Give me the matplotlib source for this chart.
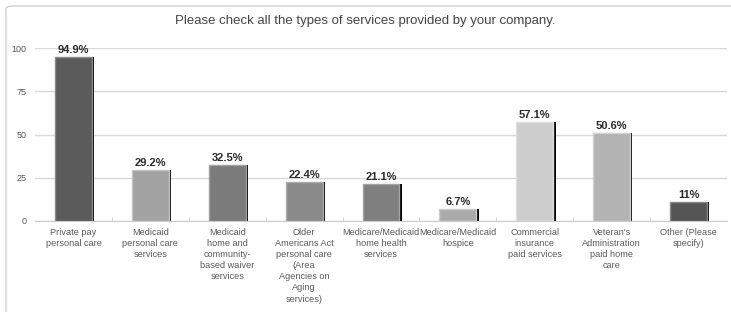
import matplotlib
matplotlib.use("Agg")
import matplotlib.pyplot as plt
from matplotlib.patches import FancyBboxPatch

plt.rcParams["font.family"] = ["Liberation Sans", "DejaVu Sans"]

TITLE = "Please check all the types of services provided by your company."
categories = [
    "Private pay\npersonal care",
    "Medicaid\npersonal care\nservices",
    "Medicaid\nhome and\ncommunity-\nbased waiver\nservices",
    "Older\nAmericans Act\npersonal care\n(Area\nAgencies on\nAging\nservices)",
    "Medicare/Medicaid\nhome health\nservices",
    "Medicare/Medicaid\nhospice",
    "Commercial\ninsurance\npaid services",
    "Veteran's\nAdministration\npaid home\ncare",
    "Other (Please\nspecify)",
]
values = [94.9, 29.2, 32.5, 22.4, 21.1, 6.7, 57.1, 50.6, 11.0]
value_labels = ["94.9%", "29.2%", "32.5%", "22.4%", "21.1%", "6.7%", "57.1%", "50.6%", "11%"]
bar_colors = ["#5b5b5b", "#a3a3a3", "#7b7b7b", "#8a8a8a", "#7f7f7f",
              "#ababab", "#cdcdcd", "#b3b3b3", "#555555"]
edge_colors = ["#8a8a8a", "#c4c4c4", "#a0a0a0", "#acacac", "#a4a4a4",
               "#cccccc", "#e0e0e0", "#d0d0d0", "#888888"]
yticks = [0, 25, 50, 75, 100]

W, H = 731, 312
fig = plt.figure(figsize=(W / 100, H / 100), dpi=100)

# outer frame, runs off the right and bottom edges
frame = FancyBboxPatch((6 / W, -0.2), 1.2, 1.2 - 6 / H, boxstyle="round,pad=0,rounding_size=0.01",
                       transform=fig.transFigure, fill=False, ec="#d0d0d0", lw=1.0)
fig.patches.append(frame)
fig.text(0.5, 1 - 21 / H, TITLE, ha="center", va="center", fontsize=9.5, color="#444444")

ax = fig.add_axes([35 / W, 1 - 221 / H, (727 - 35) / W, (221 - 48) / H])
ax.set_xlim(-0.5, len(values) - 0.5)
ax.set_ylim(0, 100)

x = range(len(values))
bw = 0.48
ax.bar([i + 0.03 for i in x], values, width=bw, color="black", zorder=2)
ax.bar(x, values, width=bw, color=bar_colors, edgecolor=edge_colors, linewidth=1.0, zorder=3)

for i, (v, lab) in enumerate(zip(values, value_labels)):
    ax.text(i, v + 1.2, lab, ha="center", va="bottom", fontsize=8,
            color="#2a2a2a", fontweight="bold", clip_on=False)

ax.set_yticks(yticks)
ax.set_yticklabels([str(t) for t in yticks], fontsize=6.5, color="#555555")
ax.tick_params(axis="y", length=0, pad=6)
ax.grid(axis="y", color="#d8d8d8", lw=1.0, zorder=0)

ax.set_xticks([i + 0.5 for i in x[:-1]], minor=True)
ax.tick_params(axis="x", which="minor", length=3, color="#cccccc", direction="in")
ax.set_xticks(list(x))
ax.set_xticklabels(categories, fontsize=6.6, color="#5a5a5a", linespacing=1.3, va="top")
ax.tick_params(axis="x", which="major", length=0, pad=5)

for s in ["top", "right", "left"]:
    ax.spines[s].set_visible(False)
ax.spines["bottom"].set_color("#cccccc")

fig.savefig("out.png", dpi=100)
